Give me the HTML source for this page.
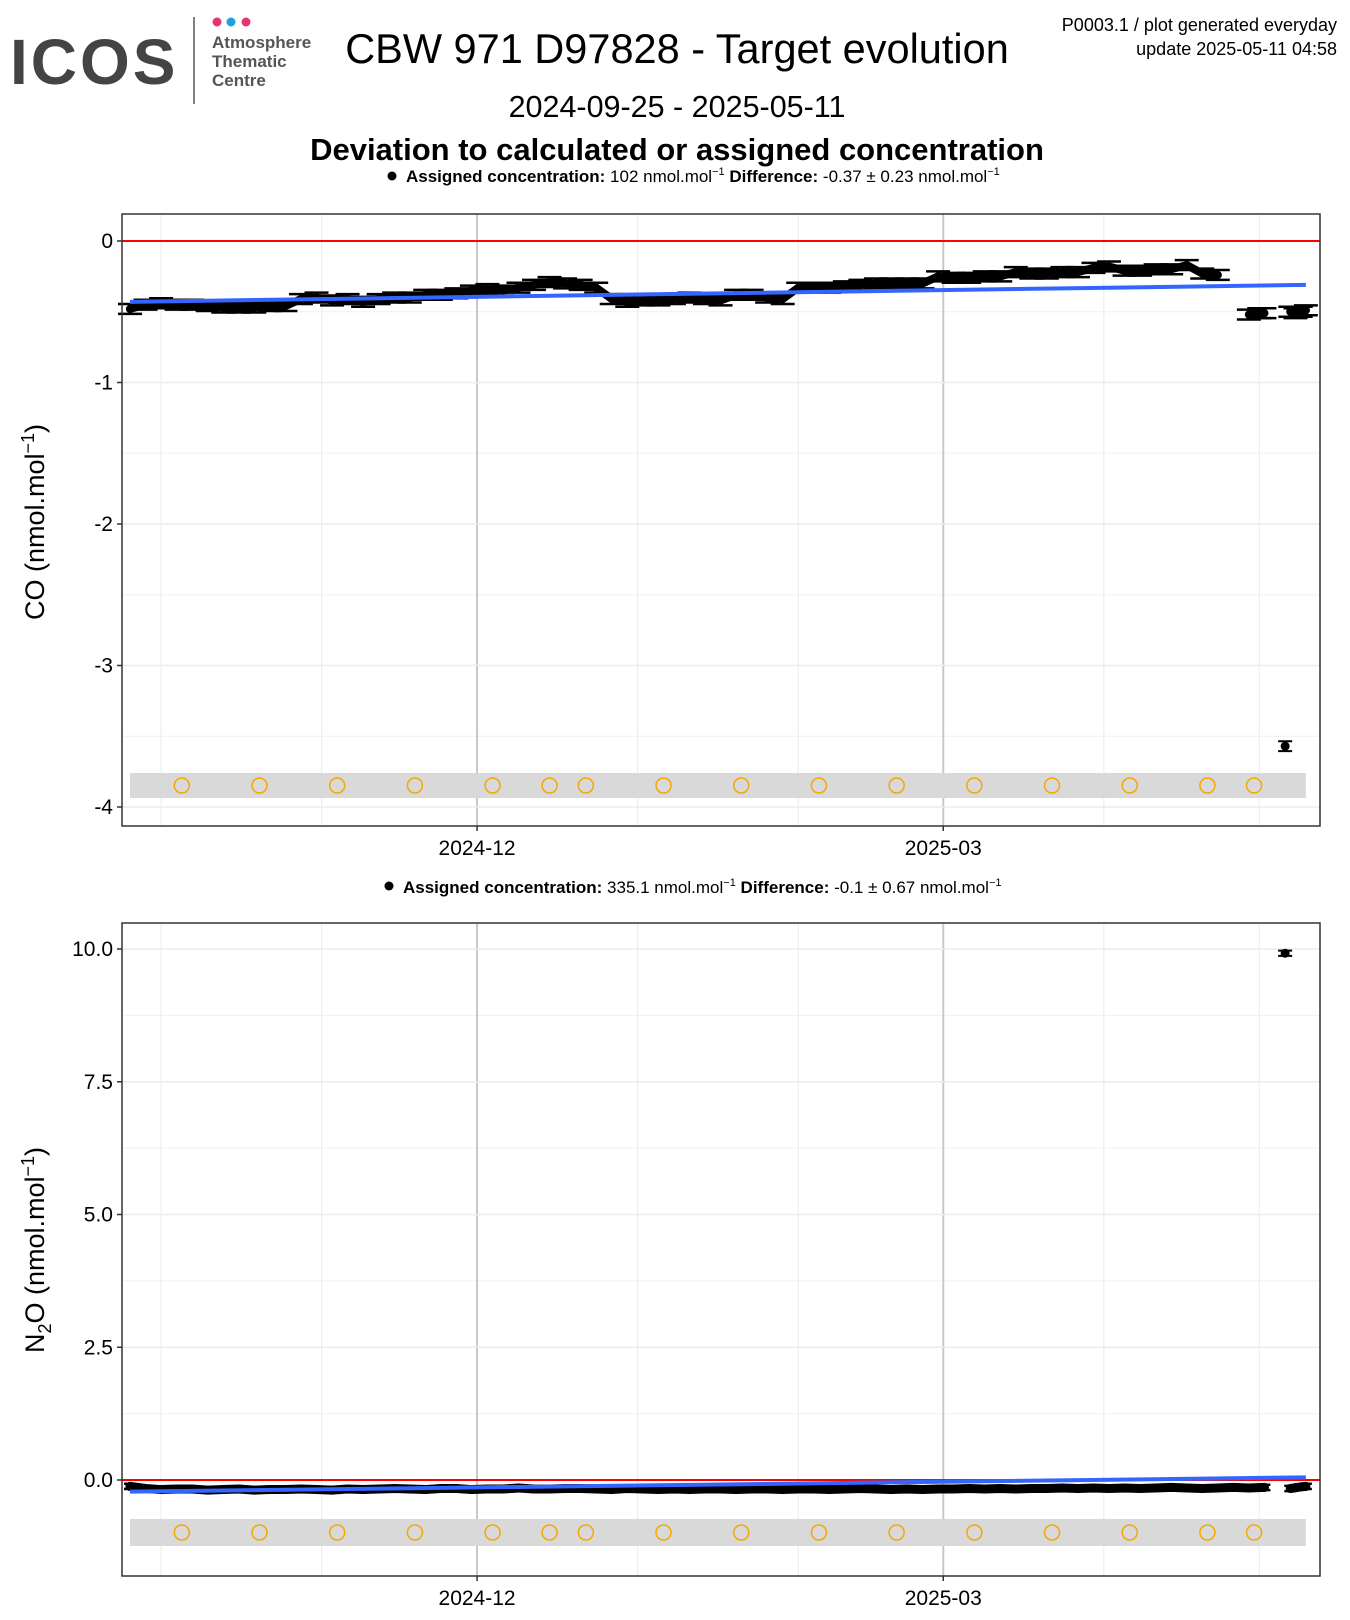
<!DOCTYPE html>
<html><head><meta charset="utf-8">
<style>
body{margin:0;background:#fff;width:1350px;height:1620px;overflow:hidden;font-family:"Liberation Sans",sans-serif}
svg{display:block}
</style></head>
<body>
<svg id="chart" width="1350" height="1620" xmlns="http://www.w3.org/2000/svg" font-family="Liberation Sans, sans-serif">
  <g>
    <text x="10" y="84" font-size="64" font-weight="bold" fill="#444" letter-spacing="3">ICOS</text>
    <line x1="194" y1="17" x2="194" y2="104" stroke="#555" stroke-width="1.5"/>
    <circle cx="217" cy="22" r="4.5" fill="#e8336e"/>
    <circle cx="231" cy="22" r="4.5" fill="#1fa0e0"/>
    <circle cx="246" cy="22" r="4.5" fill="#e8336e"/>
    <text x="212" y="48" font-size="17" font-weight="bold" fill="#555">Atmosphere</text>
    <text x="212" y="67" font-size="17" font-weight="bold" fill="#555">Thematic</text>
    <text x="212" y="86" font-size="17" font-weight="bold" fill="#555">Centre</text>
  </g>
  <text x="677" y="63" font-size="41.5" text-anchor="middle">CBW 971 D97828 - Target evolution</text>
  <text x="1337" y="31" font-size="18" text-anchor="end">P0003.1 / plot generated everyday</text>
  <text x="1337" y="55" font-size="18" text-anchor="end">update  2025-05-11 04:58</text>
  <text x="677" y="117" font-size="30.5" text-anchor="middle">2024-09-25 - 2025-05-11</text>
  <text x="677" y="160" font-size="31" font-weight="bold" text-anchor="middle">Deviation to calculated or assigned concentration</text>
  <g id="p1"></g>
  <g id="p2"></g>
</svg>
<script>
// Days since 2024-09-25
const coDays = [0,3,6,9,12,15,18,21,24,27,30,33,36,39,42,45,48,51,54,57,60,63,66,69,72,75,78,81,84,87,90,93,96,99,102,105,108,111,114,117,120,123,126,129,132,135,138,141,144,147,150,153,156,159,162,165,168,171,174,177,180,183,186,189,192,195,198,201,204,207,210,216,218,219,224,225,226,227];
const coValues = [-0.48,-0.45,-0.44,-0.45,-0.45,-0.46,-0.47,-0.47,-0.47,-0.46,-0.46,-0.41,-0.40,-0.42,-0.41,-0.43,-0.41,-0.40,-0.40,-0.38,-0.38,-0.37,-0.35,-0.34,-0.35,-0.33,-0.31,-0.29,-0.30,-0.31,-0.33,-0.41,-0.43,-0.42,-0.42,-0.41,-0.40,-0.41,-0.42,-0.38,-0.38,-0.40,-0.41,-0.33,-0.33,-0.33,-0.32,-0.31,-0.30,-0.30,-0.30,-0.30,-0.25,-0.26,-0.26,-0.25,-0.25,-0.22,-0.23,-0.23,-0.22,-0.22,-0.19,-0.18,-0.21,-0.21,-0.20,-0.20,-0.17,-0.23,-0.24,-0.52,-0.51,-0.51,-0.50,-0.51,-0.50,-0.49];
const coOutlierDays = [223];
const coOutlierValues = [-3.57];
const coTrend = [-0.43,-0.31];
const coTicks = [0,-1,-2,-3,-4];
const coTickLabels = ["0","-1","-2","-3","-4"];

const n2oDays = [0,3,6,9,12,15,18,21,24,27,30,33,36,39,42,45,48,51,54,57,60,63,66,69,72,75,78,81,84,87,90,93,96,99,102,105,108,111,114,117,120,123,126,129,132,135,138,141,144,147,150,153,156,159,162,165,168,171,174,177,180,183,186,189,192,195,198,201,204,207,210,213,216,219,224,226,227];
const n2oValues = [-0.12,-0.16,-0.18,-0.17,-0.17,-0.19,-0.18,-0.17,-0.19,-0.18,-0.18,-0.17,-0.18,-0.19,-0.17,-0.18,-0.17,-0.16,-0.17,-0.18,-0.16,-0.16,-0.18,-0.17,-0.17,-0.15,-0.17,-0.17,-0.16,-0.16,-0.17,-0.18,-0.16,-0.17,-0.18,-0.17,-0.18,-0.17,-0.17,-0.18,-0.17,-0.17,-0.18,-0.17,-0.17,-0.18,-0.17,-0.16,-0.17,-0.18,-0.17,-0.18,-0.17,-0.17,-0.16,-0.17,-0.16,-0.17,-0.16,-0.16,-0.15,-0.16,-0.15,-0.16,-0.15,-0.16,-0.15,-0.14,-0.15,-0.16,-0.15,-0.14,-0.15,-0.14,-0.16,-0.13,-0.12];
const n2oOutlierDays = [223];
const n2oOutlierValues = [9.92];
const n2oTrend = [-0.22,0.05];
const n2oTicks = [0,2.5,5,7.5,10];
const n2oTickLabels = ["0.0","2.5","5.0","7.5","10.0"];

const calDays = [10,25,40,55,70,81,88,103,118,133,148,163,178,193,208,217];
const monthDays = [6,37,67,98,129,157,188,218];
const monthLabels = ["","","2024-12","","","2025-03","",""];

const NS="http://www.w3.org/2000/svg";
function el(parent,tag,attrs){const e=document.createElementNS(NS,tag);for(const k in attrs)e.setAttribute(k,attrs[k]);parent.appendChild(e);return e;}
const X0=122,X1=1320;
function xs(d){return 130+d*5.18;}

function panel(g,cfg){
  const ys=v=>cfg.y0-v*cfg.k;
  el(g,'rect',{x:X0,y:cfg.top,width:X1-X0,height:cfg.bot-cfg.top,fill:'#fff'});
  for(let i=0;i<cfg.ticks.length-1;i++){const v=(cfg.ticks[i]+cfg.ticks[i+1])/2;
    const l=el(g,'line',{x1:X0,x2:X1,y1:ys(v),y2:ys(v),stroke:'#f0f0f0','stroke-width':1});
    
    }
  monthDays.forEach((d,i)=>{const major=monthLabels[i]!=="";
    const l=el(g,'line',{x1:xs(d),x2:xs(d),y1:cfg.top,y2:cfg.bot,stroke:major?'#c8c8c8':'#ebebeb','stroke-width':major?2:1});
    
    
    if(major){const t=el(g,'text',{x:xs(d),y:cfg.bot+29,'font-size':21,'text-anchor':'middle'});t.textContent=monthLabels[i];
      
      
      el(g,'line',{x1:xs(d),x2:xs(d),y1:cfg.bot,y2:cfg.bot+5,stroke:'#333','stroke-width':1.5});}
  });
  cfg.ticks.forEach((v,i)=>{
    const l=el(g,'line',{x1:X0,x2:X1,y1:ys(v),y2:ys(v),stroke:'#ebebeb','stroke-width':1.5});
    
    
    el(g,'line',{x1:X0-5,x2:X0,y1:ys(v),y2:ys(v),stroke:'#333','stroke-width':1.5});
    const t=el(g,'text',{x:X0-9,y:ys(v)+7,'font-size':21,'text-anchor':'end'});t.textContent=cfg.labels[i];
    
    
  });
  const b=el(g,'rect',{x:xs(0),y:cfg.bandTop,width:xs(227)-xs(0),height:cfg.bandH,fill:'#d9d9d9'});
  
  
  calDays.forEach(d=>{const c=el(g,'circle',{cx:xs(d),cy:cfg.bandTop+cfg.bandH/2,r:7.5,fill:'none',stroke:'#f5a800','stroke-width':1.5});
    
    });
  const z=el(g,'line',{x1:X0,x2:X1,y1:ys(0),y2:ys(0),stroke:'#ff0000','stroke-width':2});
  
  
  let path='';
  cfg.days.forEach((d,i)=>{const prev=i>0?cfg.days[i-1]:-99;path+=(d-prev>4?'M':'L')+xs(d)+','+ys(cfg.vals[i]);});
  const p=el(g,'path',{d:path,fill:'none',stroke:'#000','stroke-width':cfg.lw,'stroke-linejoin':'round','stroke-linecap':'round'});
  
  
  cfg.days.forEach((d,i)=>{const x=xs(d),y=ys(cfg.vals[i]),e=cfg.err*cfg.k,w=cfg.cap;
    const eb=el(g,'path',{d:`M${x-w},${y-e}H${x+w}M${x},${y-e}V${y+e}M${x-w},${y+e}H${x+w}`,stroke:'#000','stroke-width':2.5,fill:'none'});
    
    
    const c=el(g,'circle',{cx:x,cy:y,r:cfg.r,fill:'#000'});
    
    });
  cfg.oDays.forEach((d,i)=>{const x=xs(d),y=ys(cfg.oVals[i]),e=cfg.err*cfg.k;
    el(g,'path',{d:`M${x-7},${y-e}H${x+7}M${x},${y-e}V${y+e}M${x-7},${y+e}H${x+7}`,stroke:'#000','stroke-width':2,fill:'none'});
    const c=el(g,'circle',{cx:x,cy:y,r:4.5,fill:'#000'});
    
    });
  const tl=el(g,'line',{x1:xs(0),x2:xs(227),y1:ys(cfg.trend[0]),y2:ys(cfg.trend[1]),stroke:'#3366ff','stroke-width':4});
  
  
  const f=el(g,'rect',{x:X0,y:cfg.top,width:X1-X0,height:cfg.bot-cfg.top,fill:'none',stroke:'#333','stroke-width':1.5});
  
  
}

const p1=document.getElementById('p1'), p2=document.getElementById('p2');
panel(p1,{top:214,bot:826,y0:241,k:141.5,ticks:coTicks,labels:coTickLabels,days:coDays,vals:coValues,oDays:coOutlierDays,oVals:coOutlierValues,trend:coTrend,err:0.035,r:4,lw:8,cap:12,bandTop:773,bandH:25});
panel(p2,{top:923,bot:1576,y0:1480,k:53.1,ticks:n2oTicks,labels:n2oTickLabels,days:n2oDays,vals:n2oValues,oDays:n2oOutlierDays,oVals:n2oOutlierValues,trend:n2oTrend,err:0.05,r:4.5,lw:9,cap:6,bandTop:1519,bandH:27});
</script>
<div style="position:absolute;left:0;top:0;width:1350px;height:1620px;pointer-events:none">
  <svg width="1350" height="1620" style="position:absolute;left:0;top:0" font-family="Liberation Sans, sans-serif">
    <g>
      <circle cx="392" cy="176" r="4.5" fill="#000"/>
      <text x="406" y="182" font-size="17"><tspan font-weight="bold">Assigned concentration:</tspan> 102 nmol.mol<tspan dy="-7" font-size="11">−1</tspan><tspan dy="7">  </tspan><tspan font-weight="bold">Difference:</tspan> -0.37 ± 0.23 nmol.mol<tspan dy="-7" font-size="11">−1</tspan></text>
    </g>
    <g>
      <circle cx="389" cy="886" r="4.5" fill="#000"/>
      <text x="403" y="893" font-size="17"><tspan font-weight="bold">Assigned concentration:</tspan> 335.1 nmol.mol<tspan dy="-7" font-size="11">−1</tspan><tspan dy="7">  </tspan><tspan font-weight="bold">Difference:</tspan> -0.1 ± 0.67 nmol.mol<tspan dy="-7" font-size="11">−1</tspan></text>
    </g>
    <text transform="translate(44,522) rotate(-90)" font-size="27" text-anchor="middle">CO (nmol.mol<tspan dy="-10" font-size="18">−1</tspan><tspan dy="10">)</tspan></text>
    <text transform="translate(44,1250) rotate(-90)" font-size="27" text-anchor="middle">N<tspan dy="7" font-size="18">2</tspan><tspan dy="-7">O (nmol.mol</tspan><tspan dy="-10" font-size="18">−1</tspan><tspan dy="10">)</tspan></text>
  </svg>
</div>
</body></html>
